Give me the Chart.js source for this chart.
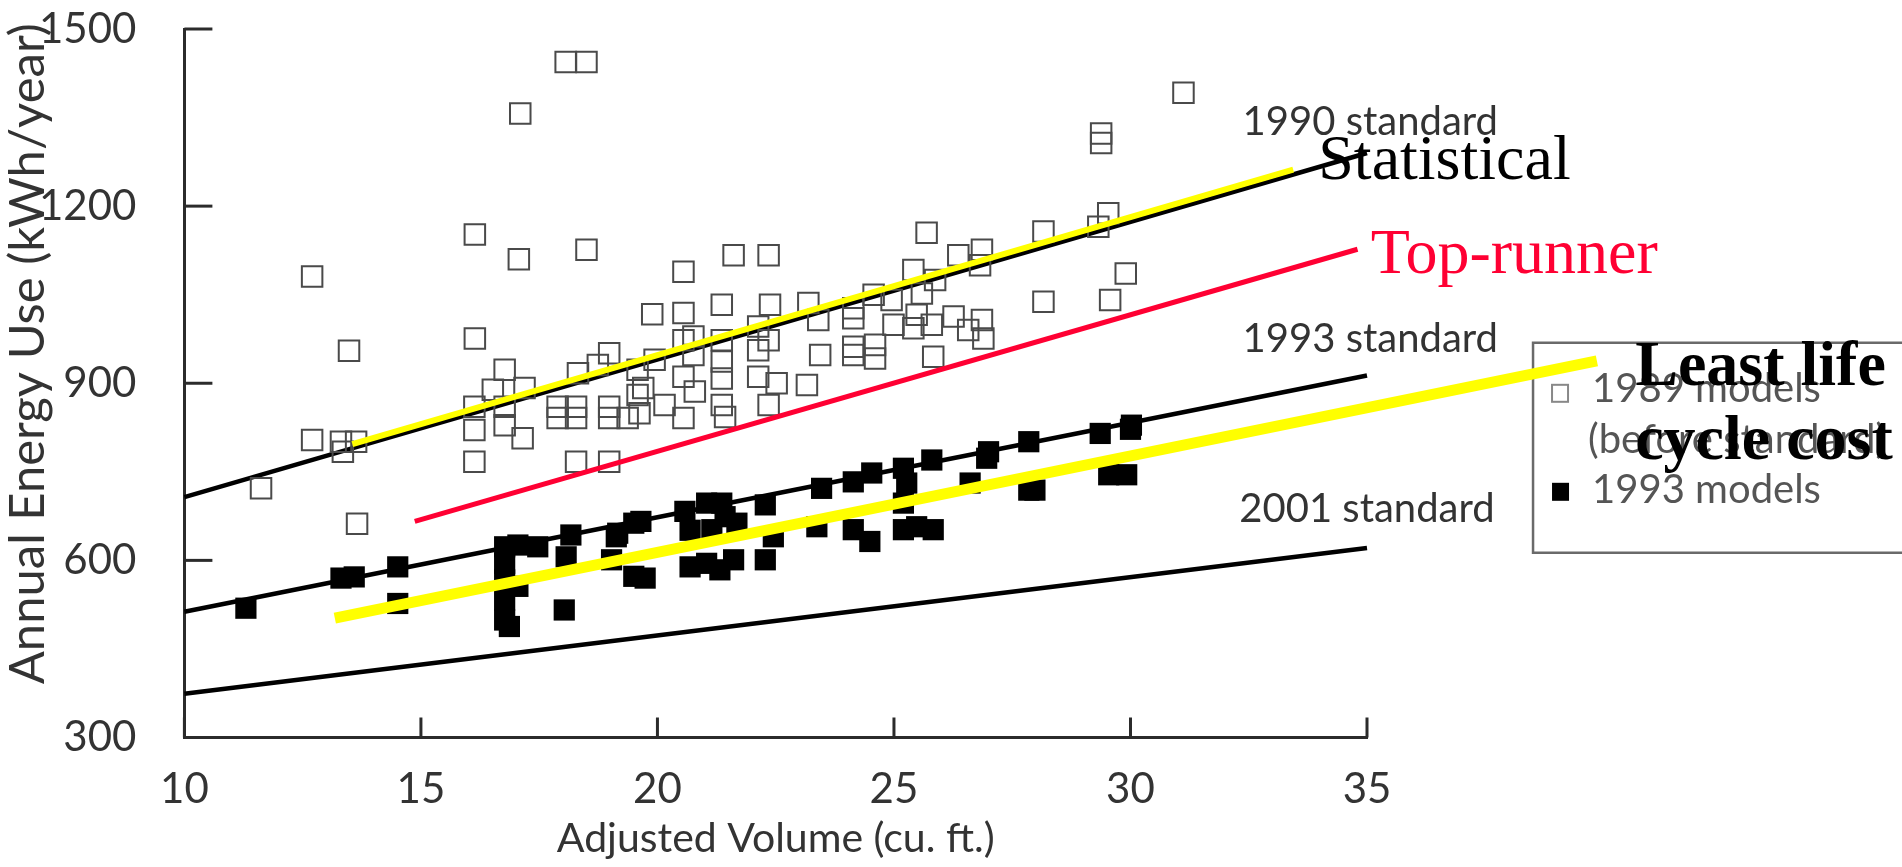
<!DOCTYPE html>
<html>
<head>
<meta charset="utf-8">
<script src="https://cdn.jsdelivr.net/npm/chart.js@4.4.1/dist/chart.umd.min.js"></script>
<style>
html,body{margin:0;padding:0;background:#fff;overflow:hidden}
canvas{display:block}
</style>
</head>
<body>
<canvas id="c" width="1902" height="867" style="width:1902px;height:867px"></canvas>
<script>
// ---------------- DATA ----------------
const xTickValues = [10, 15, 20, 25, 30, 35];
const yTickValues = [300, 600, 900, 1200, 1500];

// 1989 models (before standard) - open squares
const m1989x = [11.62,12.70,12.70,13.31,13.35,13.63,13.48,13.65,16.14,16.14,16.13,16.13,16.13,16.52,16.77,16.77,16.77,17.07,17.10,17.15,17.19,17.89,17.89,18.06,18.28,18.28,18.28,18.32,18.50,18.50,18.74,18.98,18.98,18.98,18.98,19.37,19.58,19.58,19.62,19.70,19.89,19.94,20.15,20.55,20.55,20.55,20.55,20.55,20.76,20.76,20.79,21.36,21.36,21.36,21.36,21.36,21.43,21.61,22.13,22.13,22.13,22.35,22.38,22.35,22.35,22.52,23.16,23.19,23.40,23.44,24.14,24.14,24.14,24.14,24.57,24.60,24.60,24.95,24.99,25.41,25.41,25.48,25.59,25.69,25.80,25.83,25.87,26.26,26.36,26.57,26.82,26.86,26.86,26.89,28.16,28.16,29.32,29.53,29.57,29.38,29.38,29.90,31.12];
const m1989y = [722,1081,804,801,784,801,955,662,1152,976,860,821,767,889,923,860,829,1110,1357,807,892,860,841,1444,860,841,767,917,1444,1126,931,951,860,841,767,841,923,880,849,892,1017,940,863,1089,1019,973,911,841,979,948,886,1033,973,937,908,863,843,1117,996,956,911,1117,1033,973,863,900,897,1036,1007,948,1027,1010,962,948,1050,965,942,1041,999,1092,993,1016,1052,1155,999,945,1075,1013,1117,990,1100,1126,1007,976,1157,1038,1165,1188,1041,1323,1307,1086,1392];

// 1993 models - filled squares
const m1993x = [11.30,13.31,13.59,14.51,14.51,16.77,16.77,16.77,16.77,16.77,16.87,17.05,17.05,17.47,18.07,18.03,18.17,19.03,19.13,19.16,19.50,19.50,19.65,19.74,20.58,20.69,20.69,21.04,21.04,21.15,21.32,21.36,21.43,21.61,21.68,22.28,22.28,22.45,23.37,23.47,24.14,24.14,24.49,24.53,25.20,25.20,25.20,25.27,25.48,25.80,25.83,26.61,26.96,27.00,27.85,27.85,27.98,29.36,29.54,29.92,30.02,30.00];
const m1993y = [519,570,572,589,527,623,595,567,533,499,488,626,556,623,606,516,643,601,640,646,663,573,666,570,683,651,589,697,595,652,584,697,674,601,663,694,601,640,657,722,733,652,632,748,756,697,652,731,657,770,652,731,773,784,801,719,719,815,745,745,829,822];

// Standard lines (end points)
const std1990x = [10, 35];   const std1990y = [707, 1290];
const std1993x = [10, 35];   const std1993y = [513, 913];
const std2001x = [10, 35];   const std2001y = [374, 621];

// Overlay lines
const statisticalX = [13.55, 33.44]; const statisticalY = [797, 1262];
const topRunnerX   = [14.87, 34.80]; const topRunnerY   = [666, 1127];
const leastLccX    = [13.18, 39.86]; const leastLccY    = [502, 938];

// Texts
const xAxisTitle = 'Adjusted Volume (cu. ft.)';
const yAxisTitle = 'Annual Energy Use (kWh/year)';
const standardLabels = ['1990 standard', '1993 standard', '2001 standard'];
const overlayLabels = ['Statistical', 'Top-runner', 'Least life', 'cycle cost'];
const legendLabels = [['1989 models', '(before standard)'], ['1993 models']];

// ---------------- helpers ----------------
const pts = (xs, ys) => xs.map((x, i) => ({x, y: ys[i]}));
const AXIS = '#2b2b2b';
const SANS = 'Lato, "DejaVu Sans", sans-serif';
const SERIF = '"Liberation Serif", "DejaVu Serif", serif';

// annotation layout (data coordinates of text anchors, left/baseline)
const annoLayout = [
  {t: standardLabels[0], x: 32.37, y: 1320, font: '40px ' + SANS, color: '#333'},
  {t: standardLabels[1], x: 32.37, y: 953,  font: '40px ' + SANS, color: '#333'},
  {t: standardLabels[2], x: 32.30, y: 665,  font: '40px ' + SANS, color: '#333'},
  {t: overlayLabels[0],  x: 33.97, y: 1246, font: '64px ' + SERIF, color: '#000'},
  {t: overlayLabels[1],  x: 35.08, y: 1087, font: '64px ' + SERIF, color: '#ff0033'},
  {t: overlayLabels[2],  x: 40.67, y: 897,  font: 'bold 64px ' + SERIF, color: '#000'},
  {t: overlayLabels[3],  x: 40.67, y: 772,  font: 'bold 64px ' + SERIF, color: '#000'}
];

const inwardTicks = {
  id: 'inwardTicks',
  beforeDatasetsDraw(chart) {
    const {ctx, scales: {x, y}, chartArea: a} = chart;
    ctx.save();
    ctx.strokeStyle = AXIS; ctx.lineWidth = 3;
    x.ticks.forEach(t => {
      const px = x.getPixelForValue(t.value);
      ctx.beginPath(); ctx.moveTo(px, a.bottom); ctx.lineTo(px, a.bottom - 20); ctx.stroke();
    });
    y.ticks.forEach(t => {
      const py = y.getPixelForValue(t.value);
      ctx.beginPath(); ctx.moveTo(a.left, py); ctx.lineTo(a.left + 28, py); ctx.stroke();
    });
    ctx.restore();
  }
};

// y-axis title, drawn rotated along the left side
const yTitle = {
  id: 'yTitle',
  afterDraw(chart) {
    const {ctx, scales: {y}} = chart;
    ctx.save();
    ctx.translate(44, y.getPixelForValue(950));
    ctx.rotate(-Math.PI / 2);
    ctx.font = '49px ' + SANS; ctx.fillStyle = '#333';
    ctx.textAlign = 'center'; ctx.textBaseline = 'alphabetic';
    ctx.fillText(yAxisTitle, 0, 0);
    ctx.restore();
  }
};

const legendBox = {
  id: 'legendBox',
  beforeDatasetsDraw(chart) {
    const {ctx, scales: {x, y}} = chart;
    const left = x.getPixelForValue(38.51), top = y.getPixelForValue(968.5), bottom = y.getPixelForValue(612.8);
    ctx.save();
    ctx.fillStyle = '#fff';
    ctx.strokeStyle = '#6a6a6a'; ctx.lineWidth = 2.5;
    ctx.beginPath(); ctx.rect(left, top, chart.width + 20 - left, bottom - top); ctx.fill(); ctx.stroke();
    // item 1: open square
    ctx.strokeStyle = '#888'; ctx.lineWidth = 2;
    ctx.strokeRect(left + 19, top + 42, 16, 17);
    ctx.fillStyle = '#555';
    ctx.font = '40px ' + SANS; ctx.textBaseline = 'alphabetic'; ctx.textAlign = 'left';
    ctx.fillText(legendLabels[0][0], left + 59, top + 59);
    ctx.fillText(legendLabels[0][1], left + 55, top + 110);
    // item 2: filled square
    ctx.fillStyle = '#000';
    ctx.fillRect(left + 19, top + 140, 17, 18);
    ctx.fillStyle = '#555';
    ctx.fillText(legendLabels[1][0], left + 59, top + 160);
    ctx.restore();
  }
};

const annotations = {
  id: 'annotations',
  afterDatasetsDraw(chart) {
    const {ctx, scales: {x, y}} = chart;
    ctx.save();
    ctx.textAlign = 'left'; ctx.textBaseline = 'alphabetic';
    annoLayout.forEach(a => {
      ctx.font = a.font; ctx.fillStyle = a.color;
      ctx.fillText(a.t, x.getPixelForValue(a.x), y.getPixelForValue(a.y));
    });
    ctx.restore();
  }
};

const lineDs = (label, xs, ys, color, width, order) => ({
  label, data: pts(xs, ys), showLine: true, borderColor: color, borderWidth: width,
  pointRadius: 0, fill: false, order, clip: false, borderCapStyle: 'butt'
});

new Chart(document.getElementById('c'), {
  type: 'scatter',
  data: {
    datasets: [
      lineDs('Least life cycle cost', leastLccX, leastLccY, '#ffff00', 11, 0),
      lineDs('Statistical', statisticalX, statisticalY, '#ffff00', 6, 1),
      lineDs('Top-runner', topRunnerX, topRunnerY, '#ff0033', 5, 2),
      {label: '1993 models', data: pts(m1993x, m1993y), pointStyle: 'rect', pointRadius: 15,
       backgroundColor: '#000', borderColor: '#000', borderWidth: 0, order: 3, clip: false},
      {label: '1989 models (before standard)', data: pts(m1989x, m1989y), pointStyle: 'rect', pointRadius: 14.5,
       backgroundColor: 'rgba(0,0,0,0)', borderColor: '#4a4a4a', borderWidth: 2, order: 4, clip: false},
      lineDs('1990 standard', std1990x, std1990y, '#000', 4.5, 5),
      lineDs('1993 standard', std1993x, std1993y, '#000', 4.5, 5),
      lineDs('2001 standard', std2001x, std2001y, '#000', 4.5, 5)
    ]
  },
  options: {
    responsive: false,
    animation: false,
    events: [],
    layout: {padding: {left: 0, right: 535, top: 29, bottom: 0}},
    plugins: {legend: {display: false}, tooltip: {enabled: false}},
    scales: {
      x: {
        type: 'linear', min: 10, max: 35,
        afterBuildTicks: s => { s.ticks = xTickValues.map(v => ({value: v})); },
        ticks: {font: {family: SANS, size: 42}, color: '#333', padding: 0, callback: v => String(v)},
        grid: {display: false, drawTicks: true, tickLength: 27},
        border: {display: true, color: AXIS, width: 3},
        title: {display: true, text: xAxisTitle, font: {family: SANS, size: 41}, color: '#333', padding: {top: 0, bottom: 4}},
        afterFit: s => { s.height = 129.5; }
      },
      y: {
        type: 'linear', min: 300, max: 1500,
        afterBuildTicks: s => { s.ticks = yTickValues.map(v => ({value: v})); },
        ticks: {font: {family: SANS, size: 42}, color: '#333', padding: 0, callback: v => String(v)},
        grid: {display: false, drawTicks: true, tickLength: 48},
        border: {display: true, color: AXIS, width: 3},
        title: {display: false},
        afterFit: s => { s.width = 184.4; }
      }
    }
  },
  plugins: [inwardTicks, legendBox, annotations, yTitle]
});
</script>
</body>
</html>
